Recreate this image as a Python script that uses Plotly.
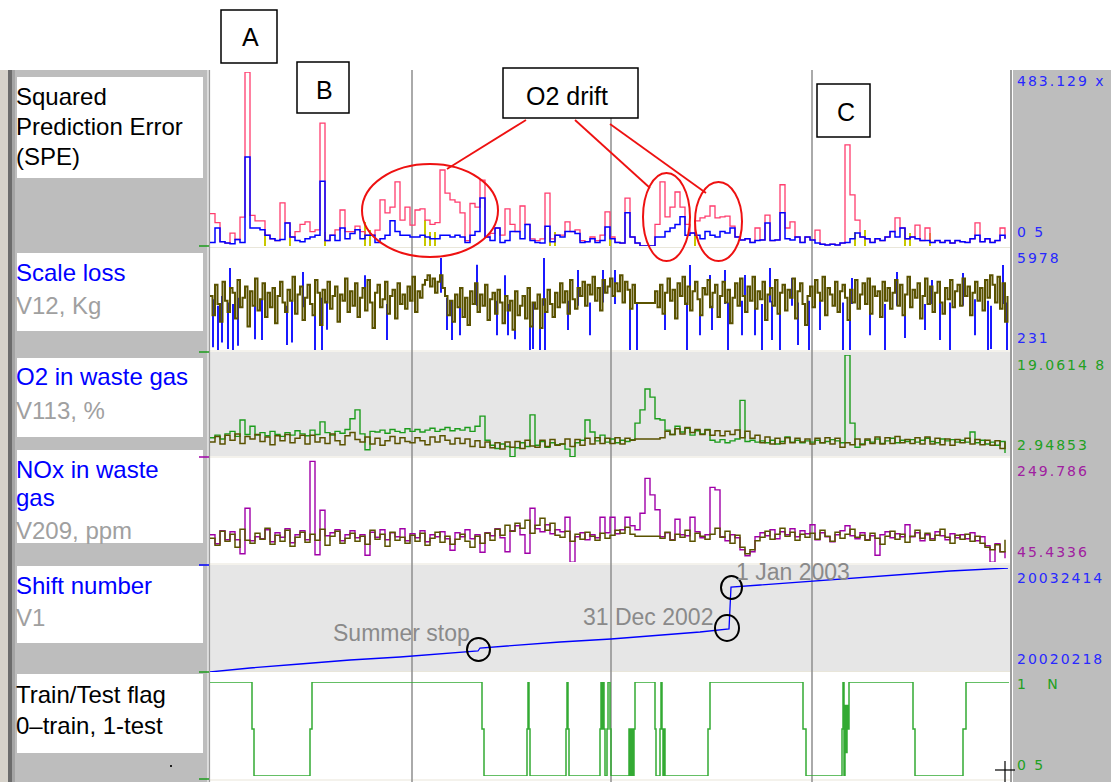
import plotly.graph_objects as go

W, H = 1111, 782


def px(x):
    return x / W


def py(y):
    return 1 - y / H


# ---------------------------------------------------------------- data
# one sample per observation; 160 observations across the time axis
spe_pink = [
    90, 65, 12, 8, 36, 18, 80, 483, 85, 70,
    70, 30, 20, 15, 120, 64, 25, 40, 60, 67,
    40, 45, 341, 15, 30, 45, 100, 40, 40, 55,
    40, 30, 30, 44, 128, 92, 108, 178, 72, 108,
    58, 100, 103, 72, 60, 65, 211, 147, 128, 122,
    92, 15, 118, 108, 183, 25, 35, 50, 30, 103,
    60, 40, 111, 60, 20, 15, 20, 147, 20, 30,
    30, 67, 40, 45, 15, 12, 25, 15, 30, 95,
    25, 10, 8, 133, 25, 8, 0, 0, 0, 60,
    178, 81, 108, 150, 108, 60, 36, 70, 78, 83,
    111, 78, 81, 83, 55, 25, 17, 20, 10, 50,
    17, 86, 15, 17, 170, 50, 67, 25, 10, 25,
    17, 44, 5, 3, 5, 3, 8, 281, 142, 72,
    25, 20, 10, 20, 15, 25, 40, 78, 50, 20,
    25, 58, 15, 50, 10, 15, 10, 15, 8, 15,
    12, 10, 20, 64, 12, 20, 10, 15, 50, 20,
]
spe_blue = [
    10, 50, 12, 8, 6, 18, 10, 247, 50, 50,
    45, 30, 20, 15, 18, 64, 25, 15, 12, 20,
    25, 30, 180, 15, 30, 15, 50, 20, 35, 45,
    20, 30, 30, 10, 20, 30, 70, 40, 30, 30,
    25, 25, 30, 25, 20, 20, 30, 30, 25, 30,
    25, 10, 30, 40, 133, 25, 15, 50, 10, 15,
    40, 40, 20, 60, 15, 10, 8, 55, 12, 30,
    25, 40, 40, 35, 10, 12, 20, 10, 15, 53,
    20, 10, 8, 92, 25, 8, 0, 0, 0, 25,
    25, 40, 50, 60, 81, 30, 36, 30, 20, 40,
    30, 25, 40, 36, 50, 25, 17, 20, 10, 15,
    17, 64, 15, 17, 92, 20, 17, 25, 10, 25,
    17, 8, 5, 3, 5, 3, 8, 10, 20, 36,
    25, 20, 10, 20, 15, 25, 40, 25, 50, 20,
    25, 20, 15, 15, 10, 15, 10, 15, 8, 15,
    12, 10, 20, 30, 12, 20, 10, 15, 30, 20,
]
spe_yellow_obs = [11, 16, 23, 31, 32, 43, 44, 45, 68, 69, 80, 97, 129, 131, 139, 140, 144]
spe_yellow_val = [38, 40, 38, 67, 45, 72, 40, 40, 40, 40, 30, 40, 40, 44, 50, 36, 36]

# scale loss is logged twice per observation
scale_olive = [
    3600, 2400, 4300, 3100, 2000, 4500, 3300, 2600, 4100, 3800,
    2200, 4600, 2900, 3500, 4200, 1700, 3900, 3000, 4700, 2700,
    3400, 4400, 2300, 3800, 2900, 4100, 1900, 3600, 4500, 3200,
    2600, 4000, 3300, 4800, 2500, 3700, 4200, 2100, 3500, 4300,
    3100, 2400, 4600, 3800, 1800, 4000, 3200, 4500, 2800, 3600,
    4200, 2000, 3700, 3300, 4700, 2600, 3900, 3000, 4400, 2300,
    3500, 4100, 2700, 4600, 3200, 1600, 3800, 4300, 2900, 3400,
    4500, 2500, 3600, 4000, 2200, 4400, 3100, 3700, 2800, 4200,
    3300, 4800, 2600, 3900, 3500, 4300, 4600, 4900, 4200, 4700,
    3800, 4500, 4900, 4100, 3600, 2400, 3300, 2000, 3700, 2900,
    4100, 2300, 3500, 1800, 3900, 3100, 4400, 2600, 3700, 3000,
    4300, 2100, 3400, 3800, 2500, 4000, 3200, 1900, 3600, 2700,
    3300, 1500, 3900, 2400, 3000, 3600, 2200, 4100, 1700, 3200,
    2800, 3700, 1600, 3400, 2600, 4000, 3100, 2300, 3800, 2900,
    4400, 3200, 3900, 2500, 4600, 3400, 2800, 4100, 3600, 4500,
    3000, 4300, 3700, 4800, 3300, 4100, 2700, 4600, 3800, 4200,
    4700, 3600, 4400, 3900, 4900, 3200, 4500, 4000, 2800, 4300,
    3170, 3170, 3170, 3170, 3170, 3170, 3170, 3170, 3900, 2900,
    4300, 2500, 3800, 4700, 3300, 4000, 2200, 4400, 3600, 4800,
    3100, 4200, 2700, 3900, 4500, 3400, 2400, 4100, 3700, 4600,
    2900, 3800, 4300, 2300, 3600, 4500, 3200, 4000, 1900, 3500,
    4400, 3000, 4700, 3600, 2600, 4200, 3300, 4800, 2800, 3900,
    3400, 4500, 2100, 3700, 4100, 3000, 4600, 2500, 3800, 4300,
    2700, 4000, 3500, 4700, 2200, 3900, 4400, 3100, 1800, 3600,
    4200, 2900, 4600, 3800, 3300, 4800, 2400, 4100, 3700, 3000,
    4500, 2600, 3900, 4300, 3500, 2100, 4000, 3200, 4600, 2800,
    3700, 4400, 3100, 4700, 2500, 4200, 3600, 3900, 2300, 4500,
    3300, 4100, 2800, 3800, 4600, 3000, 4300, 2400, 3700, 4800,
    2900, 4000, 3500, 4400, 2200, 3600, 4700, 3100, 4200, 2600,
    3800, 4500, 3200, 2500, 4100, 3400, 4600, 2900, 3900, 4300,
    3000, 4700, 3600, 4200, 2400, 3800, 4500, 3300, 4100, 2700,
    4600, 3500, 4900, 4300, 3200, 4800, 2800, 4400, 2000, 3600,
]
# blue excursions of the scale signal: observation, low end, high end
scale_blue_obs = [0.6, 1.6, 2.4, 3.6, 4.0, 4.6, 5.6, 9.0, 10.4, 15.4, 16.4, 18.6,
                  21.0, 22.4, 23.4, 31.0, 35.4, 46.2, 47.4, 48.4, 50.0, 53.4,
                  57.4, 59.0, 59.6, 61.0, 64.0, 64.6, 66.0, 66.8, 67.0, 71.6,
                  73.6, 76.0, 78.6, 81.0, 84.0, 85.4, 91.0, 95.4, 96.0, 98.0,
                  100.0, 100.4, 103.0, 103.6, 106.4, 107.0, 109.0, 110.4, 112.0,
                  112.4, 114.0, 116.4, 117.6, 119.8, 121.0, 122.0, 126.6, 128.0,
                  128.4, 132.0, 135.0, 137.4, 139.0, 143.0, 144.4, 146.0, 148.0,
                  150.6, 153.0, 155.6, 156.2, 158.6, 159.4]
scale_blue_lo = [400, 231, 700, 300, 2800, 231, 500, 900, 850, 540, 700, 2900,
                 231, 231, 1500, 3000, 850, 3800, 1480, 850, 1160, 3000,
                 1160, 2800, 1160, 900, 231, 300, 231, 3000, 231, 1480,
                 3000, 1160, 3200, 3100, 231, 231, 1480, 231, 3000, 1160,
                 2900, 1480, 3100, 231, 1160, 3000, 1160, 231, 3200,
                 850, 231, 3000, 540, 231, 3000, 1480, 231, 231,
                 3100, 1160, 231, 3000, 980, 1480, 3100, 850, 231,
                 3000, 1160, 231, 300, 3100, 231]
scale_blue_hi = [3400, 3000, 3600, 3200, 5350, 3100, 3500, 3300, 3400, 3000, 3300, 5100,
                 3200, 3500, 3300, 4900, 3100, 5978, 3500, 3300, 3200, 5550,
                 3300, 4900, 3100, 3300, 3000, 3200, 3400, 5978, 3000, 3300,
                 5230, 3200, 5230, 5230, 3400, 3170, 3300, 3200, 5540, 3400,
                 4915, 3000, 5230, 3200, 3300, 4915, 3300, 3100, 5350,
                 3300, 3000, 4730, 3200, 3300, 4600, 3300, 3200, 3400,
                 4730, 3300, 3100, 5100, 3300, 3100, 4600, 3300, 3200,
                 5040, 3400, 3300, 3000, 5540, 3200]

o2_olive = [
    5.3, 6.2, 5.0, 6.4, 5.6, 6.6, 5.1, 6.2, 5.8, 6.5,
    5.4, 6.1, 4.9, 6.3, 5.5, 6.5, 5.2, 5.9, 6.4, 5.0,
    6.4, 5.3, 6.0, 5.1, 6.6, 5.5, 4.9, 6.3, 6.8, 5.7,
    5.3, 6.1, 5.0, 5.9, 4.8, 5.5, 6.2, 5.1, 6.0, 5.4,
    5.2, 6.0, 5.5, 4.9, 6.1, 5.3, 6.3, 5.6, 5.0, 5.9,
    5.1, 5.8, 4.6, 5.5, 4.5, 5.3, 4.4, 5.2, 4.2, 5.3,
    4.5, 5.4, 4.3, 5.6, 4.7, 4.5, 5.6, 4.6, 5.7, 4.8,
    5.0, 5.8, 4.6, 5.7, 4.8, 5.9, 5.0, 6.0, 5.1, 5.9,
    5.1, 6.0, 5.0, 5.9, 5.6, 5.8, 5.8, 5.8, 5.8, 5.8,
    6.0, 7.0, 6.5, 7.4, 6.6, 7.6, 6.8, 7.3, 6.5, 7.2,
    6.4, 7.1, 6.3, 7.0, 6.5, 7.2, 6.0, 7.0, 5.9, 6.4,
    5.2, 6.1, 5.0, 5.9, 5.1, 6.0, 5.2, 5.9, 5.3, 5.8,
    5.0, 5.9, 5.2, 6.0, 5.0, 5.9, 4.5, 5.2, 4.9, 5.8,
    4.9, 5.8, 5.1, 6.1, 5.0, 6.0, 5.1, 6.2, 5.2, 5.7,
    5.1, 6.0, 5.0, 6.1, 5.0, 5.9, 4.9, 5.8, 4.8, 5.7,
    5.2, 5.9, 5.0, 5.7, 4.9, 5.6, 4.8, 5.5, 4.3, 5.4,
]
o2_green = [
    6.0, 6.4, 5.8, 6.6, 7.0, 6.2, 8.8, 6.5, 7.8, 6.4,
    6.8, 6.3, 7.0, 6.5, 6.2, 6.8, 6.4, 7.1, 6.6, 6.3,
    7.2, 6.5, 8.5, 6.8, 6.4, 7.0, 6.7, 7.3, 9.0, 10.4,
    6.6, 4.1, 7.0, 6.9, 7.2, 6.7, 7.3, 7.0, 6.8, 7.4,
    7.0, 7.3, 6.9, 7.2, 7.5, 7.0, 7.3, 7.6, 7.1, 7.4,
    7.2, 7.6, 7.0, 7.8, 9.4, 5.6, 4.8, 4.3, 5.0, 4.6,
    3.0, 4.4, 5.2, 4.6, 9.6, 4.8, 5.4, 4.5, 5.2, 4.9,
    5.0, 4.2, 3.0, 5.2, 5.6, 8.8, 6.9, 5.5, 6.4, 5.3,
    5.8, 5.2, 5.6, 5.4, 5.7, 8.3, 10.4, 13.7, 12.4, 9.0,
    8.8, 7.2, 6.5, 7.8, 6.9, 7.5, 6.4, 7.1, 6.6, 7.3,
    5.6, 5.3, 5.7, 5.2, 5.5, 5.8, 11.9, 5.4, 5.6, 5.3,
    5.5, 5.2, 5.6, 5.0, 5.4, 6.1, 5.3, 5.6, 5.2, 5.5,
    5.3, 5.6, 5.2, 5.4, 5.7, 5.5, 5.2, 19.06, 8.3, 4.5,
    5.0, 5.6, 5.3, 5.8, 5.1, 5.5, 5.9, 5.2, 5.6, 5.4,
    5.7, 5.3, 5.6, 5.9, 5.4, 5.2, 5.8, 5.5, 5.7, 5.3,
    5.6, 5.3, 6.9, 5.2, 5.6, 5.0, 5.3, 4.8, 5.4, 3.6,
]

nox_olive = [
    93, 79, 107, 87, 101, 75, 111, 89, 83, 103,
    91, 113, 81, 99, 87, 109, 77, 95, 105, 85,
    101, 89, 111, 79, 97, 107, 83, 93, 103, 87,
    97, 81, 109, 91, 101, 77, 105, 89, 95, 83,
    99, 87, 103, 79, 93, 105, 85, 97, 81, 91,
    101, 87, 75, 97, 83, 103, 89, 111, 99, 119,
    107, 123, 113, 129, 103, 119, 133, 109, 123, 99,
    95, 107, 87, 101, 91, 105, 97, 89, 103, 93,
    99, 109, 103, 115, 101, 97, 97, 97, 97, 97,
    93, 105, 89, 101, 95, 109, 87, 103, 97, 91,
    101, 113, 95, 107, 83, 99, 75, 62, 70, 88,
    95, 107, 91, 101, 113, 97, 105, 89, 101, 95,
    103, 91, 109, 97, 87, 105, 93, 101, 111, 95,
    99, 89, 103, 93, 81, 97, 107, 91, 101, 85,
    97, 109, 93, 103, 89, 99, 111, 95, 83, 99,
    91, 101, 87, 97, 83, 75, 70, 80, 66, 90,
]
nox_purple = [
    100, 82, 108, 90, 106, 90, 62, 153, 88, 96,
    92, 110, 86, 104, 95, 112, 84, 100, 108, 90,
    247, 60, 149, 98, 104, 110, 88, 100, 108, 94,
    100, 59, 105, 95, 110, 90, 104, 96, 112, 88,
    102, 94, 108, 86, 100, 96, 106, 92, 69, 104,
    96, 110, 92, 100, 65, 104, 98, 112, 94, 66,
    108, 118, 100, 63, 153, 112, 106, 120, 102, 110,
    106, 135, 45, 96, 104, 90, 100, 94, 135, 104,
    135, 102, 110, 135, 118, 110, 143, 213, 180, 150,
    96, 104, 90, 131, 100, 98, 135, 106, 94, 100,
    195, 190, 96, 88, 100, 94, 70, 58, 66, 96,
    104, 98, 110, 92, 106, 100, 112, 96, 108, 102,
    120, 90, 104, 96, 86, 100, 108, 118, 98, 92,
    104, 90, 98, 59, 100, 106, 94, 102, 96, 120,
    96, 104, 88, 100, 92, 106, 98, 90, 102, 94,
    100, 92, 104, 88, 96, 78, 45, 82, 66, 53,
]

shift_obs = [0, 8, 18, 28, 38, 46, 52, 53.6, 54.0, 62, 70, 80.2, 88, 98,
             103.8, 104.2, 110, 118, 128, 138, 148, 159.6]
shift_val = [20020218, 20020687, 20021156, 20021625, 20021977, 20022329,
             20022681, 20022681, 20023032, 20023384, 20023736, 20024088,
             20024440, 20024909, 20025261, 20030186, 20030420, 20030772,
             20031241, 20031593, 20032062, 20032414]

flag_obs = [0, 8.4, 8.8, 20.0, 20.4, 54.4, 54.8, 63.4, 63.6, 63.8, 64.0,
            71.2, 71.4, 71.6, 71.8, 78.0, 78.2, 78.4, 78.6, 78.8, 79.0,
            79.4, 79.6, 80.0, 80.2, 83.8, 84.1, 84.3, 84.6, 84.8, 85.0,
            89.0, 89.2, 90.0, 90.2, 90.4, 90.6, 90.8, 91.0, 99.6, 100.0,
            118.6, 119.2, 126.4, 126.6, 126.8, 127.0, 127.2, 127.4, 127.6,
            127.8, 140.6, 141.0, 150.6, 151.2, 159.8]
flag_val = [1, 0.5, 0, 0.5, 1, 0.5, 0, 0.5, 1, 0.5, 0,
            0.5, 1, 0.5, 0, 0.5, 1, 0.5, 1, 0.5, 0,
            0.5, 1, 0.5, 0, 0.5, 0, 0.5, 0, 0.5, 1,
            0.5, 0, 0.5, 1, 0.5, 0, 0.5, 0, 0.5, 1,
            0.5, 0, 0.5, 1, 0, 0.75, 0.25, 0.75, 0.5,
            1, 0.5, 0, 0.5, 1, 1]

# axis extremes printed in the right-hand column
spe_range = [0, 483.129]
scale_range = [231, 5978]
o2_range = [2.94853, 19.06148]
nox_range = [45.4336, 249.786]
shift_range = [20020218, 20032414]
flag_range = [0, 1]

# ---------------------------------------------------------------- styling
BLUE = "#0000ff"
PINK = "#ff3d6e"
YELLOW = "#c8c800"
OLIVE = "#5a5200"
GREEN = "#1c9c1c"
PURPLE = "#a000a8"
FLAG_GREEN = "#33aa33"
GRID = "#8e8e8e"
PANEL_GREY = "#e6e6e6"
SIDE_GREY = "#bdbdbd"
LABEL_FONT = "Liberation Sans"

fig = go.Figure()


def idx(series, per_obs=1):
    return [i / per_obs for i in range(len(series))]


def step(x, y, color, axis, width=1.0):
    fig.add_trace(go.Scatter(x=x, y=y, mode="lines", yaxis=axis,
                             line=dict(color=color, width=width, shape="hv"),
                             hoverinfo="skip", showlegend=False))


def bars(obs, lo, hi, color, axis, width=1.0):
    xs, ys = [], []
    for o, a, b in zip(obs, lo, hi):
        xs += [o, o, None]
        ys += [a, b, None]
    fig.add_trace(go.Scatter(x=xs, y=ys, mode="lines", yaxis=axis,
                             line=dict(color=color, width=width),
                             connectgaps=False, hoverinfo="skip",
                             showlegend=False))


fig.add_trace(go.Bar(x=spe_yellow_obs, y=spe_yellow_val, width=0.45,
                     marker=dict(color=YELLOW, line=dict(width=0)),
                     yaxis="y", showlegend=False, hoverinfo="skip"))
step(idx(spe_pink), spe_pink, PINK, "y", 1.3)
step(idx(spe_blue), spe_blue, BLUE, "y", 1.5)

bars(scale_blue_obs, scale_blue_lo, scale_blue_hi, BLUE, "y2", 1.8)
step(idx(scale_olive, 2), scale_olive, OLIVE, "y2", 2.0)

step(idx(o2_green), o2_green, GREEN, "y3", 1.4)
step(idx(o2_olive), o2_olive, OLIVE, "y3", 1.5)

step(idx(nox_purple), nox_purple, PURPLE, "y4", 1.4)
step(idx(nox_olive), nox_olive, OLIVE, "y4", 1.5)

fig.add_trace(go.Scatter(x=shift_obs, y=shift_val, mode="lines", yaxis="y5",
                         line=dict(color=BLUE, width=1.3),
                         hoverinfo="skip", showlegend=False))
step(flag_obs, flag_val, FLAG_GREEN, "y6", 1.5)

# ---------------------------------------------------------------- axes
hidden = dict(visible=False, showgrid=False, zeroline=False, fixedrange=True)
layout_axes = dict(
    xaxis=dict(domain=[px(210), px(1010)], range=[0, 160], anchor="y", **hidden),
    yaxis=dict(domain=[py(246), py(72)], range=spe_range, anchor="x", **hidden),
    yaxis2=dict(domain=[py(350), py(258)], range=scale_range, anchor="x", **hidden),
    yaxis3=dict(domain=[py(457), py(355)], range=o2_range, anchor="x", **hidden),
    yaxis4=dict(domain=[py(562), py(460)], range=nox_range, anchor="x", **hidden),
    yaxis5=dict(domain=[py(672), py(568)], range=shift_range, anchor="x", **hidden),
    yaxis6=dict(domain=[py(776), py(682)], range=flag_range, anchor="x", **hidden),
)

# ---------------------------------------------------------------- frame
shapes = []


def rect(x0, y0, x1, y1, fill, layer="below", line=None):
    shapes.append(dict(type="rect", xref="paper", yref="paper",
                       x0=px(x0), x1=px(x1), y0=py(y1), y1=py(y0),
                       fillcolor=fill, layer=layer,
                       line=line or dict(width=0)))


def seg(x0, y0, x1, y1, color, width=1.0, layer="below"):
    shapes.append(dict(type="line", xref="paper", yref="paper",
                       x0=px(x0), x1=px(x1), y0=py(y0), y1=py(y1),
                       line=dict(color=color, width=width), layer=layer))


def ellipse(x0, y0, x1, y1, color, width=2.0):
    shapes.append(dict(type="circle", xref="paper", yref="paper",
                       x0=px(x0), x1=px(x1), y0=py(y1), y1=py(y0),
                       line=dict(color=color, width=width), layer="above"))


# left side column
rect(0, 70, 8, 782, "#d6d2ca")
rect(8, 70, 12, 782, "#6c6c6c")
rect(12, 70, 15, 782, "#a4a4a4")
rect(15, 70, 207, 782, SIDE_GREY)
rect(207, 70, 210, 782, "#dedede")
# right side column
rect(1013, 70, 1111, 782, SIDE_GREY)

# shaded panels
rect(210, 352, 1011, 456, PANEL_GREY)
rect(210, 565, 1011, 671, PANEL_GREY)

# faint separators between panels
for yy in (247.5, 351, 457, 564, 671.5, 780):
    seg(210, yy, 1011, yy, "#e9e6da", 1.2)

# white label boxes
for y0, y1 in ((77, 178), (253, 331), (358, 437), (450, 543), (566, 643), (674, 753)):
    rect(17, y0, 203, y1, "white")

# vertical time markers and plot borders
for xx in (412, 611, 812):
    seg(xx, 70, xx, 782, GRID, 1.5)
seg(209.5, 70, 209.5, 782, "#9c9c9c", 1.2)
seg(1011, 70, 1011, 782, "#9c9c9c", 2)

# small coloured ticks on the left of each panel
for yy, col in ((246, GREEN), (352, GREEN), (457, PURPLE),
                (565, BLUE), (672, GREEN), (779, GREEN)):
    seg(199, yy, 209, yy, col, 1.5)

# tiny dot in the flag label area
rect(170, 765, 172, 767, "#202020")

# annotation boxes
for x0, y0, x1, y1 in ((221, 10, 277, 63), (297, 62, 349, 113),
                       (503, 68, 638, 118), (817, 84, 870, 137)):
    rect(x0, y0, x1, y1, "white", layer="above",
         line=dict(color="black", width=1.5))

# O2 drift callouts
ellipse(362, 164, 498, 257, "#ee1111")
ellipse(643, 173, 690, 261, "#ee1111")
ellipse(695, 182, 742, 261, "#ee1111")
seg(526, 120, 447, 169, "#ee1111", 1.8, "above")
seg(575, 120, 650, 188, "#ee1111", 1.8, "above")
seg(610, 124, 706, 193, "#ee1111", 1.8, "above")

# markers on the shift-number curve
ellipse(467, 638, 490, 661, "black", 2)
ellipse(715, 615, 739, 641, "black", 2)
ellipse(721, 576, 742, 599, "black", 2)

# cursor cross
seg(995, 770, 1015, 770, "black", 1.2, "above")
seg(1005, 761, 1005, 782, "black", 1.2, "above")

# ---------------------------------------------------------------- texts
annotations = []


def text(x, y, s, size, color, anchor="left", family=LABEL_FONT):
    annotations.append(dict(x=px(x), y=py(y), xref="paper", yref="paper",
                            text=s, showarrow=False, xanchor=anchor,
                            yanchor="middle", borderpad=0, borderwidth=0,
                            font=dict(family=family, size=size, color=color)))


LBL_BLUE = "#0000ff"
LBL_GREY = "#a0a0a0"

text(16, 96, "Squared", 24, "black")
text(16, 126, "Prediction Error", 24, "black")
text(16, 156, "(SPE)", 24, "black")
text(16, 272, "Scale loss", 24, LBL_BLUE)
text(16, 305, "V12, Kg", 24, LBL_GREY)
text(16, 376, "O2 in waste gas", 24, LBL_BLUE)
text(16, 410, "V113, %", 24, LBL_GREY)
text(16, 469, "NOx in waste", 24, LBL_BLUE)
text(16, 497, "gas", 24, LBL_BLUE)
text(16, 530, "V209, ppm", 24, LBL_GREY)
text(16, 585, "Shift number", 24, LBL_BLUE)
text(16, 617, "V1", 24, LBL_GREY)
text(16, 694, "Train/Test flag", 24, "black")
text(16, 725, "0\u2013train, 1-test", 24, "black")

# boxed letters
text(250, 37, "A", 25, "black", "center")
text(324, 90, "B", 25, "black", "center")
text(567, 96, "O2 drift", 25, "black", "center")
text(846, 112, "C", 25, "black", "center")

# notes on the shift-number curve
NOTE_GREY = "#8a8a8a"
text(333, 633, "Summer stop", 23, NOTE_GREY)
text(713, 617, "31 Dec 2002", 23, NOTE_GREY, "right")
text(736, 572, "1 Jan 2003", 23, NOTE_GREY)


def side(y, s, color):
    text(1017, y, "<span style='letter-spacing:2px'>" + s + "</span>",
         14, color, family="DejaVu Sans")


side(81, "483.129 x", "#2828ff")
side(232, "0 5", "#2828ff")
side(258, "5978", "#2828ff")
side(338, "231", "#2828ff")
side(365, "19.0614 8", "#22a022")
side(445, "2.94853", "#22a022")
side(471, "249.786", "#a020a0")
side(552, "45.4336", "#a020a0")
side(578, "20032414", "#2828ff")
side(659, "20020218", "#2828ff")
side(684, "1 &nbsp; N", "#22a022")
side(765, "0 5", "#22a022")

fig.update_layout(
    width=W, height=H, autosize=False,
    margin=dict(l=0, r=0, t=0, b=0, pad=0),
    paper_bgcolor="white", plot_bgcolor="rgba(0,0,0,0)",
    showlegend=False, barmode="overlay", bargap=0,
    shapes=shapes, annotations=annotations,
    **layout_axes,
)

fig.write_html("out.html", config=dict(displayModeBar=False, staticPlot=True))
